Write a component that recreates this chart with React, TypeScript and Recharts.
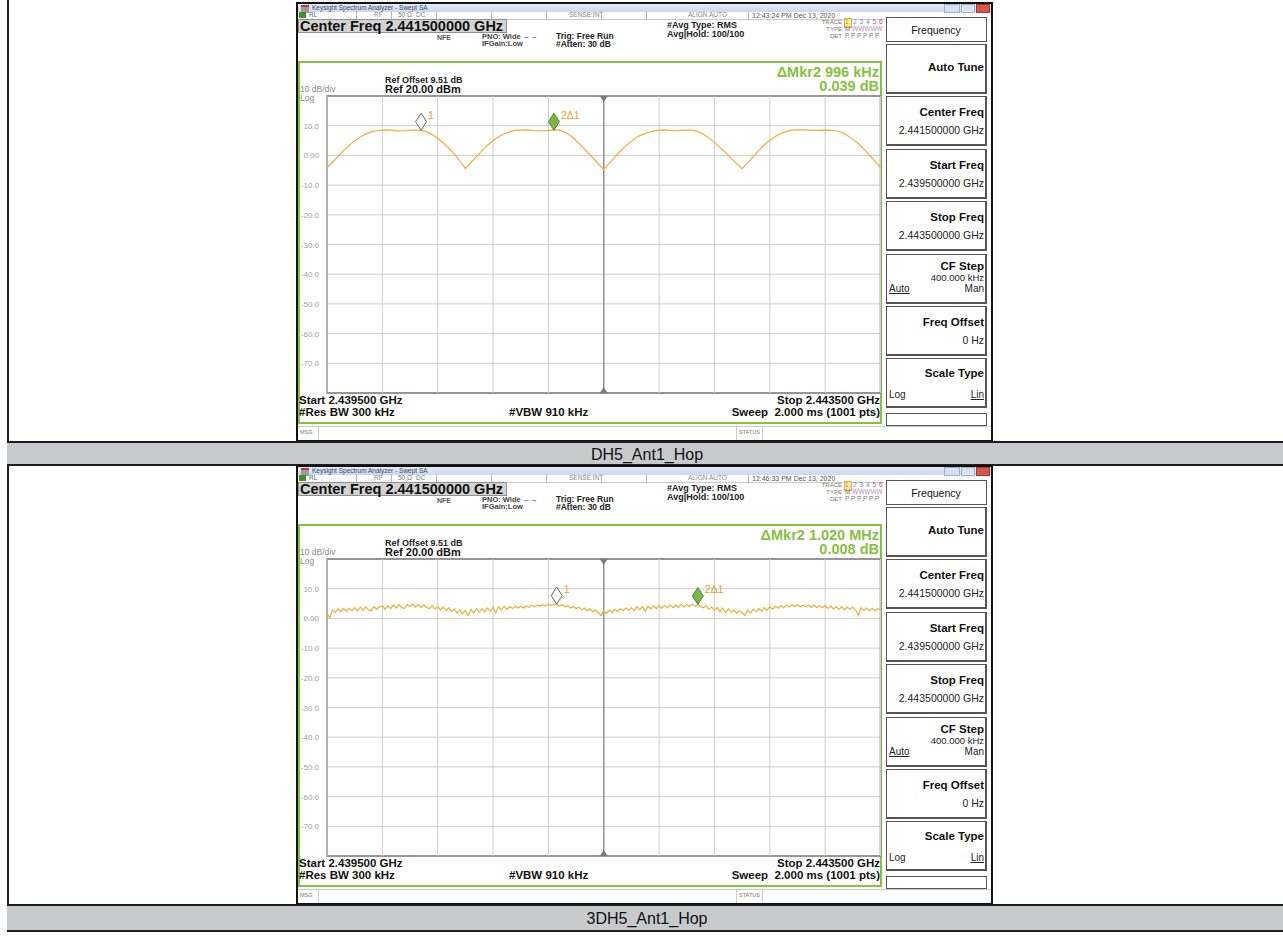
import React from 'react'
import {
  LineChart,
  Line,
  XAxis,
  YAxis,
  CartesianGrid,
  ReferenceArea,
  ReferenceLine,
  ReferenceDot,
} from 'recharts'

const FONT = '"Liberation Sans", Arial, Helvetica, sans-serif'

// scale: Ref 20 dBm, 10 dB/div
const LEVEL_TICKS = [20, 10, 0, -10, -20, -30, -40, -50, -60, -70, -80]
const GRID_DIVS = [0, 1, 2, 3, 4, 5, 6, 7, 8, 9, 10]

// DH5 hopping trace, dBm, one value per 0.1 div
const DH5_LEVELS = [
  -4.1, -2.3, -0.3, 1.7, 3.3, 4.9, 6.2, 7.2, 7.9, 8.3,
  8.5, 8.6, 8.4, 8.2, 8.3, 8.4, 8.5, 8.5, 8.0, 7.0,
  5.8, 4.2, 2.4, 0.5, -1.8, -4.4, -2.4, -0.4, 1.6, 3.4,
  5.0, 6.3, 7.3, 8.0, 8.4, 8.5, 8.6, 8.4, 8.3, 8.3,
  8.4, 8.5, 8.6, 7.8, 6.6, 5.0, 3.2, 1.2, -0.8, -2.8,
  -4.8, -2.7, -0.6, 1.4, 3.2, 4.8, 6.2, 7.0, 7.8, 8.2,
  8.5, 8.6, 8.4, 8.3, 8.4, 8.5, 8.5, 8.0, 7.1, 5.9,
  4.4, 2.6, 1.0, -0.9, -2.7, -4.5, -2.5, -0.4, 1.6, 3.5,
  5.1, 6.4, 7.4, 8.1, 8.5, 8.6, 8.6, 8.5, 8.4, 8.4,
  8.5, 8.4, 8.3, 7.7, 6.7, 5.4, 3.9, 2.1, 0.2, -1.9,
  -4.1,
]
const DH5_MARKERS = [17, 41]
const DH5_DELTA = ['ΔMkr2 996 kHz', '0.039 dB']
const DH5_CLOCK = '12:43:24 PM Dec 13, 2020'

// 3DH5 hopping trace, dBm, one value per 0.05 div
const DH5_3_LEVELS = [
  1.8, 0.2, 2.9, 2.0, 3.2, 2.3, 3.4, 2.4, 3.5, 2.6,
  3.6, 2.5, 3.8, 2.8, 3.9, 2.9, 2.6, 4.0, 3.0, 3.9,
  4.2, 3.1, 4.3, 3.3, 4.5, 3.5, 4.6, 3.6, 3.4, 4.7,
  4.0, 4.8, 3.8, 4.7, 3.6, 4.6, 3.7, 3.3, 4.3, 3.2,
  4.0, 2.9, 3.8, 2.6, 3.5, 2.3, 3.2, 1.8, 2.9, 1.5,
  2.7, 1.0, 3.0, 1.8, 3.2, 2.1, 3.3, 2.2, 3.5, 2.4,
  3.7, 1.9, 3.9, 2.9, 4.1, 3.0, 4.0, 3.3, 4.1, 3.5,
  4.1, 3.5, 4.2, 3.7, 4.4, 3.8, 4.5, 4.0, 4.6, 4.1,
  4.8, 4.3, 4.9, 4.8, 4.2, 4.6, 3.9, 4.3, 3.5, 4.0,
  3.3, 3.8, 2.9, 3.5, 2.6, 3.2, 2.2, 2.9, 1.9, 1.0,
  2.5, 1.7, 2.9, 2.0, 3.0, 2.4, 3.3, 2.6, 3.5, 2.8,
  3.6, 2.6, 3.9, 2.9, 4.0, 2.4, 4.1, 3.2, 4.2, 3.3,
  4.3, 3.4, 4.4, 3.5, 4.5, 3.6, 4.6, 3.7, 4.7, 3.8,
  4.7, 4.0, 4.8, 4.1, 4.7, 4.0, 3.6, 4.3, 3.0, 3.8,
  2.7, 3.7, 2.2, 3.5, 2.0, 3.2, 2.1, 2.8, 1.7, 2.6,
  1.9, 0.9, 2.8, 1.8, 3.1, 2.2, 3.4, 2.4, 3.6, 2.8,
  3.9, 3.1, 4.1, 3.4, 4.3, 3.6, 4.5, 3.8, 4.6, 3.9,
  4.6, 3.9, 4.5, 3.8, 4.5, 3.7, 4.4, 3.6, 4.3, 3.6,
  4.3, 3.3, 4.2, 3.1, 4.0, 3.0, 3.9, 2.9, 3.8, 3.0,
  3.8, 2.9, 1.0, 3.6, 2.7, 3.5, 2.6, 3.4, 2.5, 3.3,
  2.8,
]
const DH5_3_MARKERS = [83, 134]
const DH5_3_DELTA = ['ΔMkr2 1.020 MHz', '0.008 dB']
const DH5_3_CLOCK = '12:46:33 PM Dec 13, 2020'

const MARKER_LABELS = ['1', '2Δ1']
const CAPTIONS = ['DH5_Ant1_Hop', '3DH5_Ant1_Hop']

const SOFTKEYS = [
  { title: 'Auto Tune' },
  { title: 'Center Freq', value: '2.441500000 GHz' },
  { title: 'Start Freq', value: '2.439500000 GHz' },
  { title: 'Stop Freq', value: '2.443500000 GHz' },
  { title: 'CF Step', value: '400.000 kHz', left: 'Auto', right: 'Man', under: 'left' },
  { title: 'Freq Offset', value: '0 Hz' },
  { title: 'Scale Type', left: 'Log', right: 'Lin', under: 'right' },
]

const TRACE = '#ecae38'
const GREEN = '#86c140'
const MKR_TEXT = '#eba12a'

type TxtProps = {
  x: number
  y: number
  size: number
  bold?: boolean
  color?: string
  align?: 'left' | 'right' | 'center'
  underline?: boolean
  children: React.ReactNode
}

function Txt({ x, y, size, bold, color = '#1a1a1a', align = 'left', underline, children }: TxtProps) {
  const shift = align === 'right' ? '-100%' : align === 'center' ? '-50%' : '0'
  return (
    <div
      style={{
        position: 'absolute',
        left: x,
        top: y,
        fontSize: size,
        fontWeight: bold ? 700 : 400,
        color,
        lineHeight: 1,
        whiteSpace: 'pre',
        transform: `translate(${shift}, -50%)`,
        textDecoration: underline ? 'underline' : undefined,
      }}
    >
      {children}
    </div>
  )
}

function LevelTick(props: any) {
  const { y, payload } = props
  const v = payload.value as number
  if (v === 20 || v === -80) return <g />
  return (
    <text x={19} y={y} dy={3} textAnchor="end" fontSize={8} fill="#a0a0a0" fontFamily={FONT}>
      {v === 0 ? '0.00' : v.toFixed(1)}
    </text>
  )
}

const triangle = (down: boolean) => (p: any) => {
  const { cx, cy } = p
  const d = down
    ? `M${cx - 4},${cy} L${cx + 4},${cy} L${cx},${cy + 6} Z`
    : `M${cx - 4},${cy} L${cx + 4},${cy} L${cx},${cy - 6} Z`
  return <path d={d} fill="#7a7a7a" />
}

const diamond = (k: number) => (p: any) => {
  const { cx, cy } = p
  const fill = k === 0 ? '#ffffff' : '#78b843'
  const stroke = k === 0 ? '#666' : '#4d8a2a'
  return (
    <g>
      <path
        d={`M${cx},${cy - 17} L${cx + 5.5},${cy - 8.5} L${cx},${cy} L${cx - 5.5},${cy - 8.5} Z`}
        fill={fill}
        stroke={stroke}
        strokeWidth={1}
      />
      <text x={cx + 7} y={cy - 11} fontSize={10.5} fill={MKR_TEXT} fontFamily={FONT}>
        {MARKER_LABELS[k]}
      </text>
    </g>
  )
}

type AnalyzerProps = {
  top: number
  levels: number[]
  markers: number[]
  delta: string[]
  clock: string
}

function Analyzer({ top, levels, markers, delta, clock }: AnalyzerProps) {
  const n = levels.length
  const data = levels.map((v, i) => ({ i, v }))
  const xTicks = GRID_DIVS.map((d) => (d * (n - 1)) / 10)
  const mid = (n - 1) / 2
  const sep = (x: number) => (
    <div style={{ position: 'absolute', left: x, top: 9, width: 1, height: 8, background: '#b8b8b8' }} />
  )

  return (
    <div style={{ position: 'absolute', left: 296, top, width: 697, height: 440, background: '#fff' }}>
      {/* title bar */}
      <div
        style={{
          position: 'absolute',
          left: 2,
          top: 2,
          width: 693,
          height: 8,
          background: 'linear-gradient(#e3ecf7, #c9d8eb)',
        }}
      />
      <div style={{ position: 'absolute', left: 5, top: 3, width: 8, height: 6, background: '#9a9a9a', borderTop: '2px solid #c0392b' }} />
      <Txt x={16} y={6} size={6.5} color="#3a4a66">Keysight Spectrum Analyzer - Swept SA</Txt>
      <div style={{ position: 'absolute', left: 648, top: 2, width: 14, height: 7, background: '#d7e2f0', border: '1px solid #9fb2cc' }} />
      <div style={{ position: 'absolute', left: 665, top: 2, width: 12, height: 7, background: '#d7e2f0', border: '1px solid #9fb2cc' }} />
      <div style={{ position: 'absolute', left: 680, top: 2, width: 12, height: 7, background: '#d9574a', border: '1px solid #a33' }} />

      {/* status row */}
      <div style={{ position: 'absolute', left: 2, top: 9, width: 586, height: 8, borderBottom: '1px solid #c8c8c8' }} />
      <div style={{ position: 'absolute', left: 3, top: 10, width: 7, height: 6, background: '#3f8f2c' }} />
      <Txt x={13} y={13} size={6.5} color="#666">RL</Txt>
      {sep(60)}
      <Txt x={78} y={13} size={6.5} color="#888">RF</Txt>
      {sep(95)}
      <Txt x={102} y={13} size={6.5} color="#777">50 Ω</Txt>
      <Txt x={120} y={13} size={6.5} color="#777">DC</Txt>
      {sep(140)}
      {sep(195)}
      {sep(250)}
      <Txt x={273} y={13} size={6.5} color="#888">SENSE:INT</Txt>
      {sep(305)}
      {sep(350)}
      <Txt x={392} y={13} size={6.5} color="#888">ALIGN AUTO</Txt>
      {sep(452)}
      <Txt x={456} y={13} size={7} color="#555">{clock}</Txt>

      {/* settings row */}
      <div
        style={{
          position: 'absolute',
          left: 2,
          top: 17,
          width: 207,
          height: 12,
          background: '#d3d3d3',
          border: '1px solid #8f8f8f',
        }}
      />
      <Txt x={4} y={23.5} size={14.5} bold color="#111">Center Freq 2.441500000 GHz</Txt>
      <Txt x={141} y={35} size={7} bold color="#555">NFE</Txt>
      <Txt x={186} y={35} size={7.5} bold color="#444">PNO: Wide ←→</Txt>
      <Txt x={186} y={42} size={7.5} bold color="#444">IFGain:Low</Txt>
      <Txt x={260} y={34} size={8.5} bold color="#222">Trig: Free Run</Txt>
      <Txt x={260} y={42} size={8.5} bold color="#222">#Atten: 30 dB</Txt>
      <Txt x={371} y={23} size={9} bold color="#222">#Avg Type: RMS</Txt>
      <Txt x={371} y={32} size={9} bold color="#222">Avg|Hold: 100/100</Txt>
      <Txt x={546} y={20} size={6} align="right" color="#777">TRACE</Txt>
      <div style={{ position: 'absolute', left: 548, top: 16, width: 6, height: 8, background: '#fbe7a6', border: '1px solid #d9b24a' }} />
      <Txt x={549} y={20} size={6.5} color="#d08a16">1</Txt>
      <Txt x={557} y={20} size={6.5} color="#6c9bd8">2</Txt>
      <Txt x={563.5} y={20} size={6.5} color="#8d74cf">3</Txt>
      <Txt x={570} y={20} size={6.5} color="#4aa86a">4</Txt>
      <Txt x={576.5} y={20} size={6.5} color="#d157a0">5</Txt>
      <Txt x={583} y={20} size={6.5} color="#d04848">6</Txt>
      <Txt x={546} y={27} size={6} align="right" color="#777">TYPE</Txt>
      <Txt x={549} y={27} size={6.5} color="#777">M</Txt>
      <Txt x={556} y={27} size={6.5} color="#a495c8">WWWWW</Txt>
      <Txt x={546} y={34} size={6} align="right" color="#777">DET</Txt>
      <Txt x={549} y={34} size={6.5} color="#777">P P P P P P</Txt>

      {/* measurement frame */}
      <div
        style={{
          position: 'absolute',
          left: 2,
          top: 59,
          width: 584,
          height: 363,
          border: `2px solid ${GREEN}`,
          boxSizing: 'border-box',
        }}
      />
      <Txt x={89} y={78} size={9} bold color="#222">Ref Offset 9.51 dB</Txt>
      <Txt x={89} y={87} size={11} bold color="#111">Ref 20.00 dBm</Txt>
      <Txt x={4} y={86.5} size={8.5} color="#8a8a8a">10 dB/div</Txt>
      <Txt x={4} y={95.5} size={8.5} color="#8a8a8a">Log</Txt>
      <Txt x={583} y={70} size={14.5} bold align="right" color={GREEN}>{delta[0]}</Txt>
      <Txt x={583} y={84} size={14.5} bold align="right" color={GREEN}>{delta[1]}</Txt>

      <div style={{ position: 'absolute', left: 4, top: 64 }}>
        <LineChart width={584} height={340} data={data} margin={{ top: 30, right: 3.5, bottom: 13, left: 0 }}>
          <CartesianGrid stroke="#cdcdcd" strokeWidth={1} vertical={false} />
          <XAxis
            dataKey="i"
            type="number"
            domain={[0, n - 1]}
            ticks={xTicks}
            tick={false}
            axisLine={false}
            tickLine={false}
            height={0}
          />
          <YAxis
            type="number"
            domain={[-80, 20]}
            ticks={LEVEL_TICKS}
            interval={0}
            width={27}
            axisLine={false}
            tickLine={false}
            tick={LevelTick}
          />
          {xTicks.map((t) => (
            <ReferenceLine key={t} x={t} stroke="#cdcdcd" strokeWidth={1} />
          ))}
          <ReferenceLine x={mid} stroke="#8a8a8a" strokeWidth={1.3} />
          <ReferenceArea x1={0} x2={n - 1} y1={-80} y2={20} fill="none" stroke="#7c7c7c" strokeWidth={1.6} />
          <Line
            dataKey="v"
            type="linear"
            stroke={TRACE}
            strokeWidth={1.2}
            dot={false}
            isAnimationActive={false}
          />
          <ReferenceDot x={mid} y={20} r={4} shape={triangle(true)} />
          <ReferenceDot x={mid} y={-80} r={4} shape={triangle(false)} />
          {markers.map((m, k) => (
            <ReferenceDot key={k} x={m} y={levels[m]} r={5} shape={diamond(k)} />
          ))}
        </LineChart>
      </div>

      <Txt x={3} y={399} size={11.5} bold color="#111">Start 2.439500 GHz</Txt>
      <Txt x={584} y={399} size={11.5} bold align="right" color="#111">Stop 2.443500 GHz</Txt>
      <Txt x={3} y={411} size={11.5} bold color="#111">#Res BW 300 kHz</Txt>
      <Txt x={213} y={411} size={11.5} bold color="#111">#VBW 910 kHz</Txt>
      <Txt x={584} y={411} size={11.5} bold align="right" color="#111">Sweep  2.000 ms (1001 pts)</Txt>

      {/* message bar */}
      <div style={{ position: 'absolute', left: 2, top: 424, width: 693, height: 14, borderTop: '1px solid #ccc' }} />
      <div style={{ position: 'absolute', left: 22, top: 424, width: 1, height: 14, background: '#ccc' }} />
      <div style={{ position: 'absolute', left: 440, top: 424, width: 1, height: 14, background: '#ccc' }} />
      <div style={{ position: 'absolute', left: 466, top: 424, width: 1, height: 14, background: '#ccc' }} />
      <Txt x={4} y={431} size={5.5} color="#777">MSG</Txt>
      <Txt x={443} y={431} size={5.5} color="#777">STATUS</Txt>

      {/* softkeys */}
      <div
        style={{
          position: 'absolute',
          left: 590,
          top: 15,
          width: 101,
          height: 25,
          border: '1px solid #555',
          boxSizing: 'border-box',
          background: '#fff',
        }}
      />
      <Txt x={640} y={28} size={10.5} align="center" color="#111">Frequency</Txt>
      {SOFTKEYS.map((k, i) => {
        const y0 = 42 + i * 52.4
        const twoLine = !!k.value && !k.left
        const titleY = k.left && k.value ? 13 : k.left ? 16 : twoLine ? 17 : 24
        return (
          <div key={k.title}>
            <div
              style={{
                position: 'absolute',
                left: 590,
                top: y0,
                width: 101,
                height: 50,
                border: '1px solid #555',
                borderRightWidth: 2,
                borderBottomWidth: 2,
                boxSizing: 'border-box',
                background: '#fff',
              }}
            />
            <Txt x={688} y={y0 + titleY} size={11.5} bold align="right" color="#111">{k.title}</Txt>
            {k.value && (
              <Txt x={688} y={y0 + (k.left ? 24 : 34)} size={k.left ? 9.5 : 10.5} align="right" color="#222">
                {k.value}
              </Txt>
            )}
            {k.left && (
              <>
                <Txt x={593} y={y0 + (k.value ? 35 : 37)} size={10} color="#222" underline={k.under === 'left'}>
                  {k.left}
                </Txt>
                <Txt x={688} y={y0 + (k.value ? 35 : 37)} size={10} align="right" color="#222" underline={k.under === 'right'}>
                  {k.right}
                </Txt>
              </>
            )}
          </div>
        )
      })}
      <div
        style={{
          position: 'absolute',
          left: 590,
          top: 411,
          width: 101,
          height: 13,
          border: '1px solid #555',
          boxSizing: 'border-box',
        }}
      />

      {/* window frame */}
      <div
        style={{
          position: 'absolute',
          left: 0,
          top: 0,
          width: 697,
          height: 440,
          border: '2px solid #111',
          boxSizing: 'border-box',
        }}
      />
    </div>
  )
}

function Caption({ top, height, text }: { top: number; height: number; text: string }) {
  return (
    <div
      style={{
        position: 'absolute',
        left: 7,
        top,
        width: 1290,
        height,
        background: '#c8c9cb',
        borderTop: '2px solid #1e1e1e',
        borderBottom: '2px solid #1e1e1e',
        boxSizing: 'border-box',
      }}
    >
      <Txt x={640} y={height / 2 - 1} size={16} align="center" color="#111">{text}</Txt>
    </div>
  )
}

export default function App() {
  return (
    <div
      style={{
        position: 'fixed',
        left: 0,
        top: 0,
        width: 1283,
        height: 938,
        background: '#fff',
        fontFamily: FONT,
        overflow: 'hidden',
      }}
    >
      <div style={{ position: 'absolute', left: 7, top: 0, width: 2, height: 932, background: '#1e1e1e' }} />
      <Analyzer top={2} levels={DH5_LEVELS} markers={DH5_MARKERS} delta={DH5_DELTA} clock={DH5_CLOCK} />
      <Caption top={441} height={25} text={CAPTIONS[0]} />
      <Analyzer top={465} levels={DH5_3_LEVELS} markers={DH5_3_MARKERS} delta={DH5_3_DELTA} clock={DH5_3_CLOCK} />
      <Caption top={904} height={28} text={CAPTIONS[1]} />
    </div>
  )
}
